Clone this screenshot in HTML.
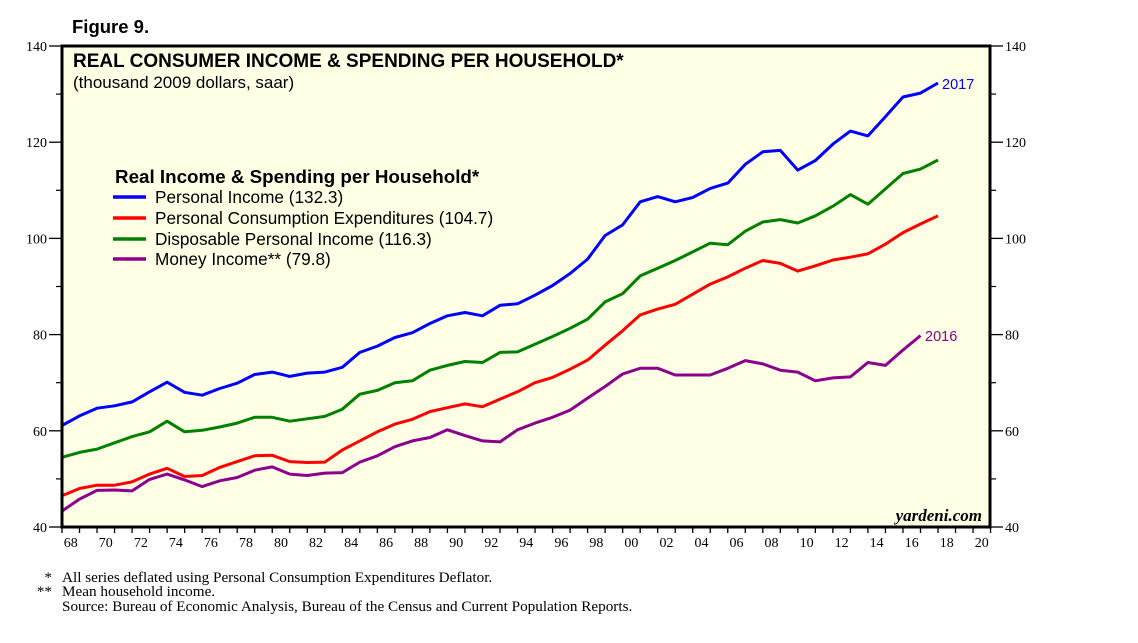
<!DOCTYPE html>
<html><head><meta charset="utf-8"><style>
html,body{margin:0;padding:0;background:#fff;}
svg{display:block;}
.sans{font-family:"Liberation Sans",Arial,sans-serif;}
.serif{font-family:"Liberation Serif","Times New Roman",serif;}
</style></head><body>
<svg id="chart" width="1138" height="643" viewBox="0 0 1138 643">
<rect x="0" y="0" width="1138" height="643" fill="#fff"/>
<text x="72" y="33" class="sans" font-size="18.5" font-weight="bold">Figure 9.</text>
<rect x="62" y="46" width="928" height="481" fill="#ffffe6"/>
<g id="grid"></g>
<g id="series"></g>
<rect x="62" y="46" width="928" height="481" fill="none" stroke="#000" stroke-width="3"/>
<text x="73" y="67" class="sans" font-size="19" font-weight="bold">REAL CONSUMER INCOME &amp; SPENDING PER HOUSEHOLD*</text>
<text x="73" y="88" class="sans" font-size="17">(thousand 2009 dollars, saar)</text>
<g>
<text x="115" y="183" class="sans" font-size="18.8" font-weight="bold">Real Income &amp; Spending per Household*</text>
<line x1="113" y1="197" x2="146" y2="197" stroke="#0000ff" stroke-width="3.5"/>
<text x="155" y="203" class="sans" font-size="17.2">Personal Income (132.3)</text>
<line x1="113" y1="218" x2="146" y2="218" stroke="#ff0000" stroke-width="3.5"/>
<text x="155" y="224" class="sans" font-size="17.2">Personal Consumption Expenditures (104.7)</text>
<line x1="113" y1="239" x2="146" y2="239" stroke="#008000" stroke-width="3.5"/>
<text x="155" y="245" class="sans" font-size="17.2">Disposable Personal Income (116.3)</text>
<line x1="113" y1="259" x2="146" y2="259" stroke="#8b008b" stroke-width="3.5"/>
<text x="155" y="265" class="sans" font-size="17.2">Money Income** (79.8)</text>
</g>
<text x="942" y="89" class="sans" font-size="14.5" fill="#0000ff">2017</text>
<text x="925" y="341" class="sans" font-size="14.5" fill="#8b008b">2016</text>
<text x="982" y="521" class="serif" font-size="17" font-style="italic" font-weight="bold" text-anchor="end">yardeni.com</text>
<g class="serif" font-size="15.2">
<text x="52" y="582" text-anchor="end">*</text>
<text x="62" y="582">All series deflated using Personal Consumption Expenditures Deflator.</text>
<text x="52" y="596" text-anchor="end">**</text>
<text x="62" y="596">Mean household income.</text>
<text x="62" y="611">Source: Bureau of Economic Analysis, Bureau of the Census and Current Population Reports.</text>
</g>
</svg>
<script>
const years = [1967,1968,1969,1970,1971,1972,1973,1974,1975,1976,1977,1978,1979,1980,1981,1982,1983,1984,1985,1986,1987,1988,1989,1990,1991,1992,1993,1994,1995,1996,1997,1998,1999,2000,2001,2002,2003,2004,2005,2006,2007,2008,2009,2010,2011,2012,2013,2014,2015,2016,2017];
const personalIncome = [61.1,63.1,64.7,65.2,66.0,68.1,70.1,68.0,67.4,68.8,69.9,71.7,72.2,71.3,72.0,72.2,73.2,76.3,77.6,79.4,80.4,82.3,83.9,84.6,83.9,86.1,86.4,88.2,90.2,92.7,95.7,100.6,102.8,107.6,108.7,107.6,108.5,110.4,111.5,115.4,118.0,118.3,114.2,116.2,119.6,122.3,121.3,125.3,129.4,130.2,132.3];
const pce = [46.5,48.0,48.7,48.7,49.4,51.0,52.2,50.5,50.7,52.4,53.6,54.8,54.9,53.6,53.4,53.5,56.0,57.9,59.8,61.4,62.4,64.0,64.8,65.6,65.0,66.6,68.1,70.0,71.1,72.8,74.7,77.8,80.8,84.1,85.3,86.3,88.4,90.5,92.0,93.8,95.4,94.8,93.2,94.3,95.5,96.1,96.8,98.8,101.2,103.0,104.7];
const dpi = [54.5,55.5,56.2,57.5,58.8,59.8,62.0,59.8,60.1,60.8,61.6,62.8,62.8,62.0,62.5,63.0,64.5,67.6,68.4,70.0,70.4,72.6,73.6,74.4,74.2,76.3,76.4,78.0,79.6,81.3,83.2,86.8,88.5,92.2,93.8,95.4,97.2,99.0,98.7,101.5,103.4,103.9,103.2,104.7,106.7,109.1,107.1,110.3,113.5,114.4,116.3];
const moneyIncome = [43.3,45.8,47.6,47.7,47.5,49.9,51.0,49.8,48.4,49.6,50.3,51.8,52.5,51.0,50.7,51.2,51.3,53.5,54.8,56.7,57.9,58.6,60.2,59.0,57.9,57.7,60.2,61.6,62.8,64.3,66.8,69.2,71.8,73.0,73.0,71.6,71.6,71.6,73.0,74.6,73.9,72.6,72.2,70.4,71.0,71.2,74.2,73.6,76.8,79.8];
const yTicks = [40,60,80,100,120,140];
const yMinorTicks = [50,70,90,110,130];
const xLabelYears = [1968,1970,1972,1974,1976,1978,1980,1982,1984,1986,1988,1990,1992,1994,1996,1998,2000,2002,2004,2006,2008,2010,2012,2014,2016,2018,2020];

const NS = 'http://www.w3.org/2000/svg';
const PL = 62, PR = 990.6, PT = 46, PB = 527;
const YR = 17.52;
function xEnd(y){ return PL + (y - 1967) * YR; }
function yS(v){ return PB - (v - 40) * (PB - PT) / 100; }
const grid = document.getElementById('grid');
function mk(tag, attrs, parent){
  const e = document.createElementNS(NS, tag);
  for (const k in attrs) e.setAttribute(k, attrs[k]);
  parent.appendChild(e); return e;
}
yTicks.forEach(v => {
  const y = yS(v);
  const l = mk('line', {x1: 49, x2: PL, y1: y, y2: y, stroke: '#000', 'stroke-width': 1.3}, grid);
  
  
  const r = mk('line', {x1: PR, x2: 1003, y1: y, y2: y, stroke: '#000', 'stroke-width': 1.3}, grid);
  
  
  const t = mk('text', {x: 47, y: y + 5, 'text-anchor': 'end', class: 'serif', 'font-size': 14}, grid);
  t.textContent = v;
  
  
  const t2 = mk('text', {x: 1005, y: y + 5, class: 'serif', 'font-size': 14}, grid);
  t2.textContent = v;
  
  
});
yMinorTicks.forEach(v => {
  const y = yS(v);
  const l = mk('line', {x1: 56, x2: PL, y1: y, y2: y, stroke: '#000', 'stroke-width': 1.2}, grid);
  
  
  const r = mk('line', {x1: PR, x2: 996, y1: y, y2: y, stroke: '#000', 'stroke-width': 1.2}, grid);
  
  
});
for (let yr = 1967; yr <= 2020; yr++) {
  const x = xEnd(yr);
  const l = mk('line', {x1: x, x2: x, y1: PB, y2: PB + 6, stroke: '#000', 'stroke-width': 1.3}, grid);
  
  
}
xLabelYears.forEach(yr => {
  const x = xEnd(yr - 1) + YR / 2;
  const t = mk('text', {x: x, y: 547, 'text-anchor': 'middle', class: 'serif', 'font-size': 14}, grid);
  t.textContent = String(yr % 100).padStart(2, '0');
  
  
});
const ser = document.getElementById('series');
function line(vals, color, name){
  const pts = vals.map((v, i) => xEnd(years[i]).toFixed(1) + ',' + yS(v).toFixed(1)).join(' ');
  const p = mk('polyline', {points: pts, fill: 'none', stroke: color, 'stroke-width': 3, 'stroke-linejoin': 'round'}, ser);
  
  
}
line(moneyIncome, '#8b008b', 'line-money-income');
line(pce, '#ff0000', 'line-pce');
line(dpi, '#008000', 'line-disposable-personal-income');
line(personalIncome, '#0000ff', 'line-personal-income');
</script>
</body></html>
